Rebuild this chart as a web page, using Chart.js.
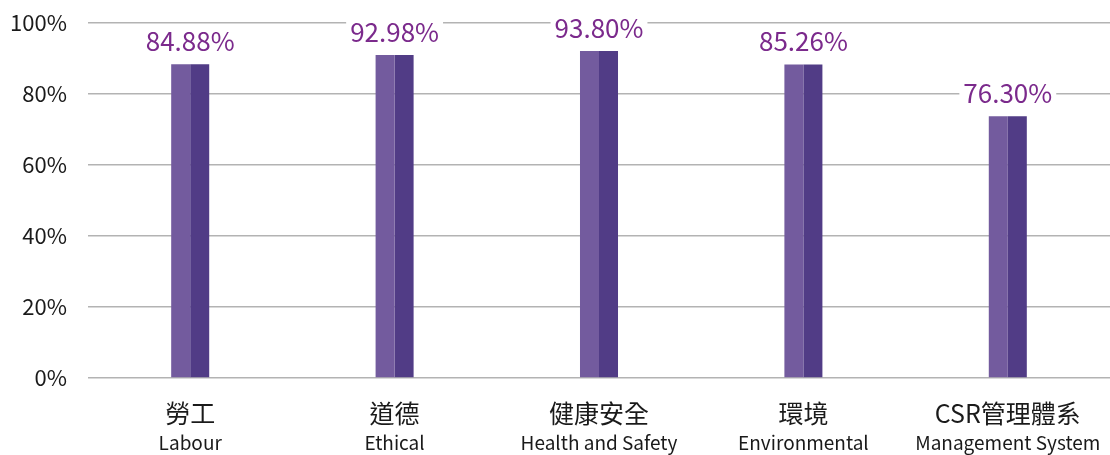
<!DOCTYPE html>
<html>
<head>
<meta charset="utf-8">
<script src="https://cdn.jsdelivr.net/npm/chart.js@4/dist/chart.umd.min.js"></script>
<style>
    html, body { margin: 0; padding: 0; background: #fff; }
    #wrap { width: 1110px; height: 455px; }
</style>
</head>
<body>
<div id="wrap"><canvas id="chart"></canvas></div>
<script>
const categoriesZh = ['勞工', '道德', '健康安全', '環境', 'CSR管理體系'];
const categoriesEn = ['Labour', 'Ethical', 'Health and Safety', 'Environmental', 'Management System'];
// bar heights as drawn in the picture (they differ a bit from the printed labels)
const barHeights = [88.4, 91.0, 92.1, 88.3, 73.7];
const valueLabels = ['84.88%', '92.98%', '93.80%', '85.26%', '76.30%'];
const yTicks = [0, 20, 40, 60, 80, 100];

const FONT = '"Noto Sans CJK TC", "Noto Sans", sans-serif';

// value labels above bars, on a white box that breaks the grid line
const valueLabelPlugin = {
    id: 'valueLabels',
    afterDatasetsDraw(chart) {
        const ctx = chart.ctx;
        const meta = chart.getDatasetMeta(0);
        const x = chart.scales.x;
        ctx.save();
        ctx.font = '26px ' + FONT;
        ctx.textAlign = 'center';
        ctx.textBaseline = 'middle';
        meta.data.forEach((bar, i) => {
            const cx = x.getPixelForValue(i);
            const cy = bar.y - 23;
            const w = ctx.measureText(valueLabels[i]).width;
            ctx.fillStyle = '#ffffff';
            ctx.fillRect(cx - w / 2 - 4, cy - 12, w + 8, 24);
            ctx.fillStyle = '#7b2a8c';
            ctx.fillText(valueLabels[i], cx, cy);
        });
        ctx.restore();
    }
};

// two-line category labels with different sizes
const categoryLabelPlugin = {
    id: 'categoryLabels',
    afterDraw(chart) {
        const ctx = chart.ctx;
        const x = chart.scales.x;
        ctx.save();
        ctx.fillStyle = '#1a1a1a';
        ctx.textAlign = 'center';
        ctx.textBaseline = 'middle';
        categoriesZh.forEach((label, i) => {
            const cx = x.getPixelForValue(i);
            ctx.font = '25px ' + FONT;
            ctx.fillText(label, cx, 413);
            ctx.font = '19px ' + FONT;
            ctx.fillText(categoriesEn[i], cx, 443);
        });
        ctx.restore();
    }
};

const chartData = {
    labels: categoriesEn,
    datasets: [
        {
            label: 'left',
            data: barHeights,
            backgroundColor: 'rgb(115, 91, 158)',
            borderWidth: 0,
            barPercentage: 1,
            categoryPercentage: 0.186,
        },
        {
            label: 'right',
            data: barHeights,
            backgroundColor: 'rgb(81, 60, 134)',
            borderWidth: 0,
            barPercentage: 1,
            categoryPercentage: 0.186,
        }
    ]
};

const chartConfig = {
    type: 'bar',
    data: chartData,
    options: {
        responsive: true,
        maintainAspectRatio: false,
        animation: false,
        layout: {
            padding: { top: 23, bottom: 69, left: 0, right: 0 }
        },
        plugins: {
            legend: { display: false },
            tooltip: { enabled: false },
            title: { display: false }
        },
        scales: {
            x: {
                grid: { display: false },
                border: { display: false },
                ticks: { display: false }
            },
            y: {
                min: 0,
                max: 100,
                afterFit: (scale) => {
                    scale.width = 88;
                    // tick padding is meant for horizontal spacing only
                    scale.paddingTop = 0;
                    scale.paddingBottom = 0;
                },
                afterBuildTicks: (scale) => {
                    scale.ticks = yTicks.map(v => ({ value: v }));
                },
                grid: {
                    color: '#b3b3b3',
                    lineWidth: 1.5,
                    drawTicks: false
                },
                border: { display: false },
                ticks: {
                    padding: 21,
                    color: '#1a1a1a',
                    font: { family: FONT, size: 22 },
                    callback: (v) => v + '%'
                }
            }
        }
    },
    plugins: [valueLabelPlugin, categoryLabelPlugin]
};

window.mainChart = new Chart(document.getElementById('chart'), chartConfig);
</script>
</body>
</html>
